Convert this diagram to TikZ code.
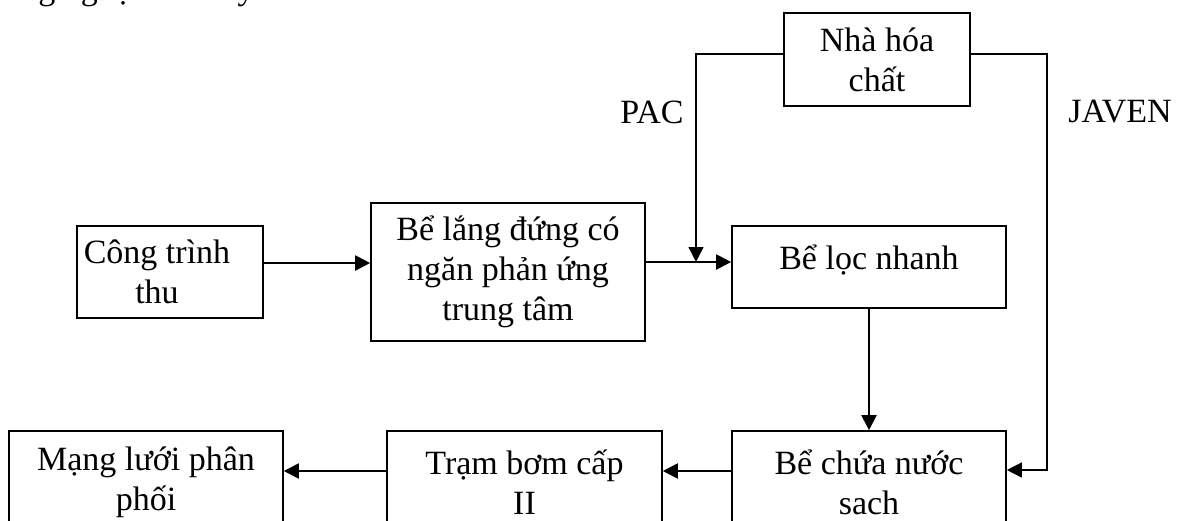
\documentclass[tikz,border=0pt]{standalone}
\usepackage{fontspec}
\setmainfont{Liberation Serif}
\usepackage{tikz}
\usetikzlibrary{arrows.meta}
\tikzstyle{block} = [rectangle, draw=black, line width=0.8pt, align=center, inner sep=0pt]
\tikzstyle{wide} = [block, minimum width=137pt]
\tikzstyle{narrow} = [block, minimum width=93pt]
\tikzstyle{arrow} = [line width=1pt,-{Triangle[length=7.5pt,width=7.5pt]}]
\tikzstyle{feed} = [line width=0.7pt,-{Triangle[length=7.5pt,width=7.5pt]}]

\begin{document}
\begin{tikzpicture}[x=0.5pt,y=-0.5pt,font=\fontsize{17}{20}\selectfont]
	\useasboundingbox (0,0) rectangle (1179,520);
	\node (prev) [anchor=base west, inner sep=0pt] at (-11,-1) {công nghệ nhà máy};

	\node (thu) [narrow, minimum height=46pt] at (170,272) {Công trình\hspace*{13pt}\\thu\hspace*{13pt}};
	\node (lang) [wide, minimum height=69pt] at (508,272) {Bể lắng đứng có\\ngăn phản ứng\\trung tâm};
	\node (loc) [wide, minimum height=41pt, text depth=10pt] at (869,267) {Bể lọc nhanh};
	\node (hoachat) [narrow, minimum height=46.5pt] at (877,59.5) {Nhà hóa\\chất};
	\node (chua) [wide, minimum height=51pt] at (869,482) {Bể chứa nước\\sach};
	\node (tram) [wide, minimum width=137.5pt, minimum height=51pt] at (524.5,482) {Trạm bơm cấp\\II};
	\node (mang) [wide, minimum height=51pt] at (146,482) {Mạng lưới phân\\phối};
	\node (pac) at (652,112) {PAC};
	\node (javen) at (1120,112) {JAVEN};

	\coordinate (mix) at (696,262);
	\coordinate (corner) at (1047,470);

	\draw [arrow] ([yshift=4.5pt]thu.east) -- ([yshift=4.5pt]lang.west);
	\draw [arrow] (lang.east |- mix) -- (loc.west |- mix);
	\draw [feed] ([yshift=2.75pt]hoachat.west) -| (mix);
	\draw [feed] ([yshift=2.75pt]hoachat.east) -| (corner) -- (chua.east |- corner);
	\draw [arrow] (loc.south) -- (chua.north);
	\draw [arrow] ([yshift=5.5pt]chua.west) -- ([yshift=5.5pt]tram.east);
	\draw [arrow] ([yshift=5.5pt]tram.west) -- ([yshift=5.5pt]mang.east);
\end{tikzpicture}
\end{document}
